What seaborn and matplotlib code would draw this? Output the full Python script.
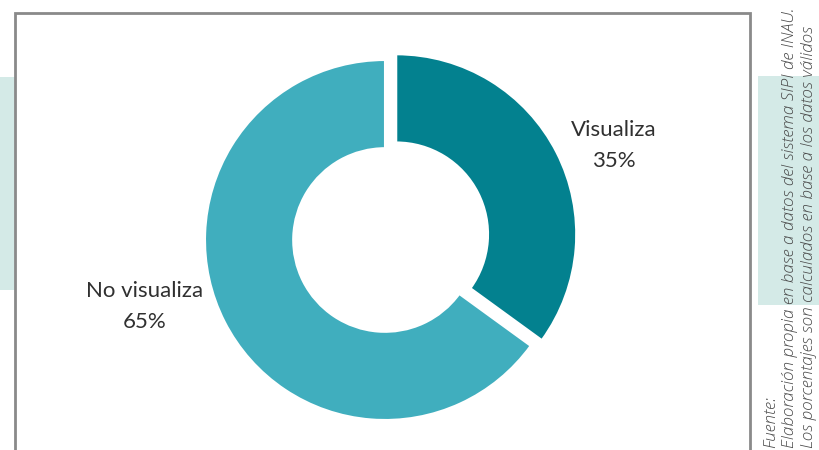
import matplotlib
matplotlib.use("Agg")
import matplotlib.pyplot as plt
from matplotlib.patches import Rectangle
import seaborn as sns

# ---- data ----
categories = ["Visualiza", "No visualiza"]
values = [35, 65]
pct_labels = ["35%", "65%"]
source_lines = [
    "Fuente:",
    "Elaboración propia en base a datos del sistema SIPI de INAU.",
    "Los porcentajes son calculados en base a los datos válidos",
]

sns.set_theme(style="white")
plt.rcParams["font.family"] = ["Lato", "DejaVu Sans"]

W, H = 820, 450
fig = plt.figure(figsize=(W / 100, H / 100), dpi=100)
fig.patch.set_facecolor("white")

def fx(px):
    return px / W

def fy(py):
    return 1 - py / H

band_color = "#D4EAE7"
# background bands
fig.patches.append(Rectangle((0, fy(290)), fx(15), fy(77) - fy(290),
                             transform=fig.transFigure, facecolor=band_color,
                             edgecolor="none", zorder=0))
fig.patches.append(Rectangle((fx(758), fy(305)), fx(W - 758), fy(76) - fy(305),
                             transform=fig.transFigure, facecolor=band_color,
                             edgecolor="none", zorder=0))
# frame
fig.patches.append(Rectangle((fx(15), fy(470)), fx(750 - 15), fy(13) - fy(470),
                             transform=fig.transFigure, facecolor="white",
                             edgecolor="#8a8a8a", linewidth=2, zorder=1))

# donut axes
cx, cy, R = 385, 240, 180
half = 1.12 * R
ax = fig.add_axes([fx(cx - half), fy(cy + half), fx(2 * half), (2 * half) / H])
ax.set_zorder(2)
ax.patch.set_alpha(0)
colors = ["#03818F", "#40AEBE"]
ax.pie(values, colors=colors, startangle=90, counterclock=False,
       explode=[0.07, 0], radius=1.0,
       wedgeprops=dict(width=0.49, edgecolor="white", linewidth=1.5))
ax.set_xlim(-1.12, 1.12)
ax.set_ylim(-1.12, 1.12)
ax.set_aspect("equal")
ax.axis("off")

# labels (name line and percent line)
label_pos = [(614, 130, 161), (145, 291, 322)]
for name, pct, (px, py1, py2) in zip(categories, pct_labels, label_pos):
    fig.text(fx(px), fy(py1), name, ha="center", va="center",
             fontsize=16, color="#303030", zorder=3)
    fig.text(fx(px), fy(py2), pct, ha="center", va="center",
             fontsize=16, color="#303030", zorder=3)

# source note (rotated)
src_x = [771, 790, 809]
for line, px in zip(source_lines, src_x):
    fig.text(fx(px), fy(448), line, rotation=90, rotation_mode="anchor",
             ha="left", va="center", fontsize=12.3, style="italic",
             color="#4a4a4a", family=["Open Sans", "DejaVu Sans"],
             fontweight="light", zorder=3)

fig.savefig("out.png", dpi=100)
